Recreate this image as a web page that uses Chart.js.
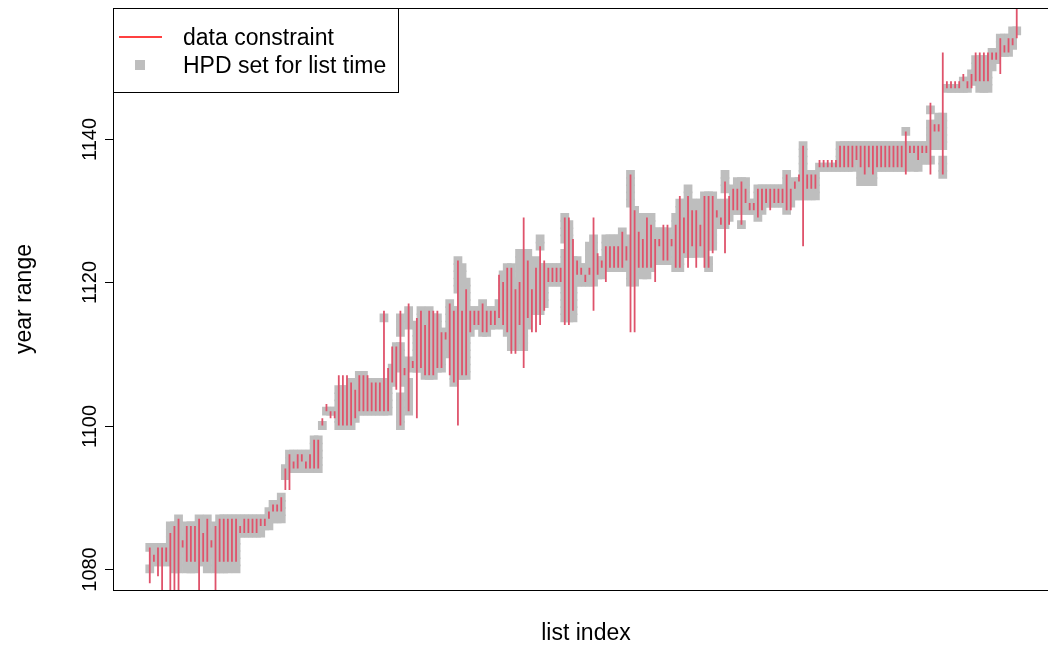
<!DOCTYPE html>
<html>
<head>
<meta charset="utf-8">
<script src="https://cdn.jsdelivr.net/npm/chart.js@4"></script>
<style>
  html, body { margin: 0; padding: 0; background: #fff; overflow: hidden; }
</style>
</head>
<body>
<canvas id="hpdChart" width="1048" height="648"></canvas>
<script>
// Constraint interval (lower / upper year) for each list entry, in list order
const constraintLow = [
  1078,1081,1079,1076,1081,1076,1076,1076,1083,1081,
  1081,1081,1076,1081,1081,1083,1076,1081,1081,1081,
  1081,1081,1085,1085,1085,1085,1085,1086,1086,1087,
  1088,1088,1088,1091,1091,1094,1094,1095,1094,1094,
  1094,1094,1100,1102,1101,1101,1100,1100,1100,1100,
  1101,1102,1102,1102,1102,1102,1102,1102,1102,1106,
  1105,1100,1107,1102,1108,1101,1108,1107,1107,1107,
  1108,1108,1112,1107,1106,1100,1107,1107,1113,1114,
  1114,1113,1113,1114,1114,1115,1114,1113,1110,1110,
  1114,1108,1115,1113,1113,1114,1116,1120,1120,1120,
  1120,1114,1114,1116,1121,1121,1120,1121,1116,1121,
  1122,1120,1122,1122,1122,1122,1123,1113,1113,1122,
  1122,1122,1122,1120,1125,1123,1123,1125,1122,1122,
  1124,1122,1125,1122,1125,1122,1122,1124,1129,1128,
  1124,1128,1130,1130,1128,1131,1130,1130,1129,1130,
  1131,1130,1131,1131,1131,1130,1130,1133,1134,1125,
  1133,1133,1133,1136,1136,1136,1136,1136,1136,1136,
  1136,1136,1137,1136,1135,1136,1135,1136,1136,1136,
  1136,1136,1136,1136,1135,1138,1138,1137,1138,1138,
  1135,1141,1141,1135,1147,1147,1147,1147,1148,1147,
  1147,1148,1148,1148,1148,1151,1151,1149,1152,1152,
  1153,1154
];
const constraintHigh = [
  1083,1082,1083,1083,1083,1085,1086,1087,1084,1086,
  1086,1086,1087,1085,1087,1084,1086,1087,1087,1087,
  1087,1087,1086,1087,1087,1087,1087,1087,1087,1088,
  1089,1089,1090,1094,1096,1095,1096,1096,1095,1096,
  1098,1098,1101,1103,1102,1102,1107,1107,1107,1106,
  1105,1107,1107,1107,1106,1106,1106,1116,1108,1111,
  1111,1116,1108,1117,1109,1115,1116,1114,1116,1116,
  1116,1113,1113,1117,1116,1123,1116,1119,1116,1116,
  1116,1117,1116,1116,1116,1121,1120,1122,1122,1119,
  1120,1129,1123,1119,1122,1125,1123,1122,1122,1122,
  1122,1129,1129,1126,1123,1122,1121,1122,1129,1124,
  1123,1125,1125,1125,1125,1127,1125,1135,1130,1127,
  1126,1129,1128,1126,1126,1128,1128,1126,1128,1132,
  1129,1132,1130,1130,1128,1132,1132,1132,1130,1129,
  1134,1132,1133,1133,1134,1133,1131,1131,1133,1133,
  1133,1133,1133,1133,1133,1135,1133,1134,1135,1139,
  1135,1135,1135,1137,1137,1137,1137,1137,1139,1139,
  1139,1139,1139,1139,1139,1139,1139,1139,1139,1139,
  1139,1139,1139,1139,1141,1139,1139,1139,1139,1139,
  1145,1142,1142,1152,1148,1148,1148,1148,1149,1148,
  1149,1152,1152,1152,1152,1152,1152,1154,1153,1154,
  1154,1160
];
// HPD set of each list entry, as runs of consecutive years [from, to]
const hpdRanges = [
  [[1080,1080],[1083,1083]], [[1081,1083]], [[1081,1083]], [[1081,1083]], [[1081,1083]],
  [[1081,1086]], [[1080,1086]], [[1080,1083],[1085,1087]], [[1083,1084]], [[1080,1086]],
  [[1080,1083],[1085,1086]], [[1080,1086]], [[1081,1084],[1086,1087]], [[1081,1085]], [[1080,1087]],
  [[1082,1085]], [[1080,1086]], [[1080,1087]], [[1080,1083],[1085,1087]], [[1080,1087]],
  [[1081,1087]], [[1080,1087]], [[1085,1087]], [[1085,1087]], [[1085,1087]],
  [[1085,1087]], [[1085,1087]], [[1085,1087]], [[1086,1087]], [[1086,1088]],
  [[1087,1089]], [[1087,1089]], [[1087,1090]], [[1093,1094]], [[1094,1096]],
  [[1094,1096]], [[1094,1096]], [[1094,1096]], [[1094,1096]], [[1094,1096]],
  [[1094,1098]], [[1094,1098]], [[1100,1100]], [[1102,1102]], [[1102,1102]],
  [[1102,1102]], [[1100,1105]], [[1100,1105]], [[1100,1102],[1104,1105]], [[1100,1106]],
  [[1101,1106]], [[1102,1107]], [[1102,1107]], [[1102,1106]], [[1102,1106]],
  [[1102,1106]], [[1102,1106]], [[1102,1106],[1115,1115]], [[1102,1106]], [[1106,1108]],
  [[1108,1111]], [[1100,1104],[1109,1111],[1113,1115]], [[1106,1109]], [[1102,1106],[1114,1116]], [[1108,1109]],
  [[1108,1114]], [[1108,1116]], [[1107,1114]], [[1107,1116]], [[1107,1115]],
  [[1108,1115]], [[1108,1113]], [[1111,1113]], [[1110,1117]], [[1106,1116]],
  [[1107,1116],[1119,1123]], [[1107,1109],[1112,1122]], [[1107,1120]], [[1113,1116]], [[1114,1116]],
  [[1114,1116]], [[1113,1117]], [[1113,1116]], [[1114,1116]], [[1114,1116]],
  [[1115,1117]], [[1114,1121]], [[1113,1122]], [[1111,1122]], [[1111,1120]],
  [[1112,1124]], [[1111,1124]], [[1114,1124]], [[1116,1122]], [[1116,1123]],
  [[1116,1122],[1125,1126]], [[1117,1122]], [[1120,1122]], [[1120,1122]], [[1120,1122]],
  [[1120,1122]], [[1115,1124],[1126,1129]], [[1115,1128]], [[1115,1123]], [[1120,1123]],
  [[1120,1122]], [[1120,1122]], [[1120,1125]], [[1120,1126]], [[1121,1123]],
  [[1121,1123]], [[1122,1126]], [[1122,1126]], [[1122,1126]], [[1122,1126]],
  [[1122,1127]], [[1122,1126]], [[1120,1122],[1131,1135]], [[1120,1130]], [[1122,1129]],
  [[1121,1128]], [[1121,1129]], [[1122,1129]], [[1123,1127]], [[1123,1127]],
  [[1123,1127]], [[1123,1127]], [[1125,1126]], [[1122,1129]], [[1122,1131]],
  [[1124,1131]], [[1124,1133]], [[1124,1131]], [[1124,1131]], [[1125,1131]],
  [[1124,1132]], [[1122,1123],[1125,1132]], [[1125,1132]], [[1128,1131]], [[1128,1130]],
  [[1128,1131],[1133,1135]], [[1129,1131]], [[1130,1133]], [[1130,1134]], [[1128,1128],[1130,1134]],
  [[1130,1134]], [[1130,1131]], [[1130,1131]], [[1129,1133]], [[1130,1133]],
  [[1131,1133]], [[1131,1133]], [[1131,1133]], [[1131,1133]], [[1131,1133]],
  [[1130,1135]], [[1131,1133]], [[1132,1134]], [[1132,1134]], [[1132,1139]],
  [[1132,1135]], [[1132,1135]], [[1132,1135]], [[1136,1136]], [[1136,1136]],
  [[1136,1136]], [[1136,1136]], [[1136,1136]], [[1136,1139]], [[1136,1139]],
  [[1136,1137],[1139,1139]], [[1136,1139]], [[1137,1139]], [[1134,1139]], [[1134,1139]],
  [[1134,1137],[1139,1139]], [[1134,1139]], [[1136,1139]], [[1136,1139]], [[1136,1139]],
  [[1136,1137],[1139,1139]], [[1136,1139]], [[1136,1139]], [[1136,1139]], [[1136,1139],[1141,1141]],
  [[1138,1139]], [[1136,1139]], [[1136,1139]], [[1137,1139]], [[1137,1139]],
  [[1137,1137],[1139,1142],[1144,1144]], [[1139,1142]], [[1139,1143]], [[1135,1137],[1139,1143]], [[1147,1147]],
  [[1147,1147]], [[1147,1147]], [[1147,1147]], [[1147,1148]], [[1147,1148]],
  [[1148,1149]], [[1148,1151]], [[1147,1151]], [[1147,1151]], [[1147,1151]],
  [[1150,1152]], [[1151,1152]], [[1152,1154]], [[1152,1154]], [[1152,1154]],
  [[1153,1155]], [[1155,1155]]
];
const yTicks = [1080, 1100, 1120, 1140];

// one vertical segment per list entry, broken apart with null points
const constraintSegments = [];
constraintLow.forEach((lo, i) => {
  constraintSegments.push({ x: i + 1, y: lo }, { x: i + 1, y: constraintHigh[i] }, { x: i + 1, y: null });
});

// every year inside the HPD runs becomes one grey square
const hpdPoints = [];
hpdRanges.forEach((runs, i) => {
  runs.forEach(([from, to]) => {
    for (let yr = from; yr <= to; yr++) hpdPoints.push({ x: i + 1, y: yr });
  });
});

const FONT = '23px "Liberation Sans", Arial, sans-serif';
const TICK_FONT = '20px "Liberation Sans", Arial, sans-serif';

// frame, y axis, titles and the legend box, drawn like base R graphics
const framePlugin = {
  id: 'frame',
  afterDraw(chart) {
    const { ctx, chartArea: a, scales: { y } } = chart;
    ctx.save();
    ctx.strokeStyle = '#000';
    ctx.lineWidth = 1;
    ctx.strokeRect(a.left + 0.5, a.top + 0.5, a.right - a.left + 20, a.bottom - a.top);

    ctx.fillStyle = '#000';
    ctx.font = TICK_FONT;
    yTicks.forEach(v => {
      const py = Math.round(y.getPixelForValue(v)) + 0.5;
      ctx.beginPath();
      ctx.moveTo(a.left, py);
      ctx.lineTo(a.left - 8, py);
      ctx.stroke();
      ctx.save();
      ctx.translate(96, py);
      ctx.rotate(-Math.PI / 2);
      ctx.textAlign = 'center';
      ctx.textBaseline = 'alphabetic';
      ctx.fillText(String(v), 0, 0);
      ctx.restore();
    });

    // axis titles
    ctx.font = FONT;
    ctx.save();
    ctx.translate(31, (a.top + a.bottom) / 2);
    ctx.rotate(-Math.PI / 2);
    ctx.textAlign = 'center';
    ctx.fillText('year range', 0, 0);
    ctx.restore();
    ctx.textAlign = 'center';
    ctx.fillText('list index', 586, 640);

    // legend
    ctx.fillStyle = '#fff';
    ctx.fillRect(113.5, 8.5, 285, 84);
    ctx.strokeRect(113.5, 8.5, 285, 84);
    ctx.strokeStyle = '#FF0000';
    ctx.lineWidth = 1.5;
    ctx.beginPath();
    ctx.moveTo(119, 37);
    ctx.lineTo(162, 37);
    ctx.stroke();
    ctx.fillStyle = '#BEBEBE';
    ctx.fillRect(135, 60, 10, 10);
    ctx.fillStyle = '#000';
    ctx.textAlign = 'left';
    ctx.fillText('data constraint', 183, 45);
    ctx.fillText('HPD set for list time', 183, 73);
    ctx.restore();
  }
};

const ctx = document.getElementById('hpdChart').getContext('2d');
new Chart(ctx, {
  type: 'scatter',
  data: {
    datasets: [
      {
        type: 'line',
        label: 'data constraint',
        data: constraintSegments,
        borderColor: '#DF536B',
        borderWidth: 1.8,
        pointRadius: 0,
        spanGaps: false,
        fill: false,
        tension: 0
      },
      {
        type: 'scatter',
        label: 'HPD set for list time',
        data: hpdPoints,
        pointStyle: 'rect',
        pointRadius: 6.2,
        backgroundColor: '#BEBEBE',
        borderWidth: 0
      }
    ]
  },
  options: {
    responsive: false,
    animation: false,
    devicePixelRatio: 1,
    events: [],
    layout: { padding: { left: 113, top: 8, right: 0, bottom: 58 } },
    scales: {
      x: { type: 'linear', min: -7.95, max: 218.1, display: false },
      y: { type: 'linear', min: 1077.07, max: 1158.2, display: false }
    },
    plugins: {
      legend: { display: false },
      tooltip: { enabled: false }
    }
  },
  plugins: [framePlugin]
});
</script>
</body>
</html>
